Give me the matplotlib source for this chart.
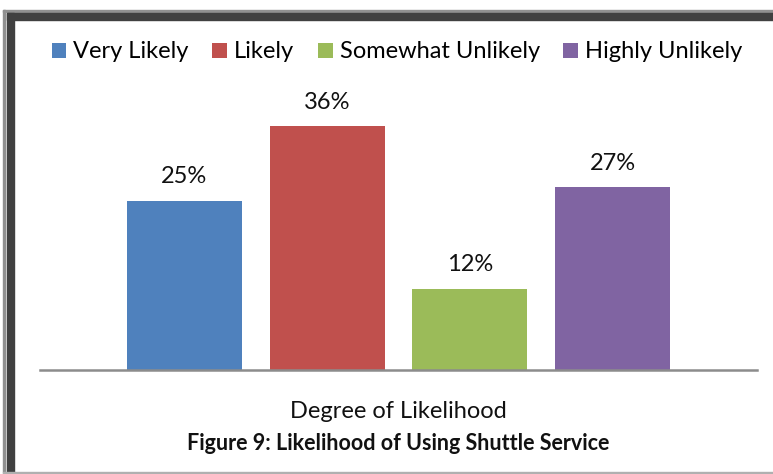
import matplotlib.pyplot as plt
from matplotlib.patches import Rectangle

series = ['Very Likely', 'Likely', 'Somewhat Unlikely', 'Highly Unlikely']
values = [25, 36, 12, 27]
colors = ['#4F81BD', '#C0504D', '#9BBB59', '#8064A2']

plt.rcParams['font.family'] = ['Lato', 'DejaVu Sans']

W, H = 773, 474
fig = plt.figure(figsize=(W/100, H/100), dpi=100)

# axes placed in pixel terms
ax = fig.add_axes([40/W, 1-370/H, 717/W, 271/H])
x = range(len(values))
bars = ax.bar(x, values, width=0.805, color=colors, label=series)
for xi, v in zip(x, values):
    ax.text(xi, v + 2.0, '%d%%' % v, ha='center', va='bottom', fontsize=17, color='#111111')

ax.set_xlim(-1.01, 4.01)
ax.set_ylim(0, 40)
ax.set_xticks([])
ax.set_yticks([])
for s in ['top', 'right', 'left']:
    ax.spines[s].set_visible(False)
ax.spines['bottom'].set_color('#8c8c8c')
ax.spines['bottom'].set_linewidth(1.8)

leg = fig.legend(bars, series, loc='center', bbox_to_anchor=(397/W, 1-52/H), ncol=4,
                 frameon=False, fontsize=17, handlelength=0.62, handleheight=0.62,
                 handletextpad=0.3, columnspacing=1.0, borderpad=0, borderaxespad=0)

fig.text(398/W, 1-411/H, 'Degree of Likelihood', ha='center', va='center', fontsize=17, color='#111111')
fig.text(398/W, 1-443/H, 'Figure 9: Likelihood of Using Shuttle Service', ha='center', va='center',
         fontsize=15.5, fontweight='bold', color='#111111')

# frame around the chart (cut off on the right)
tf = fig.transFigure
def prect(x0, y0, w, h, c):
    fig.patches.append(Rectangle((x0/W, 1-(y0+h)/H), w/W, h/H, transform=tf, color=c, zorder=0))
prect(3, 10, 1.5, 463, '#909090')
prect(3, 10, W, 1.5, '#909090')
prect(7, 13, 7, 460, '#404040')
prect(7, 13, W, 7, '#404040')
prect(3, 471.5, W, 1.5, '#b0b0b0')

fig.savefig('out.png', dpi=100)
